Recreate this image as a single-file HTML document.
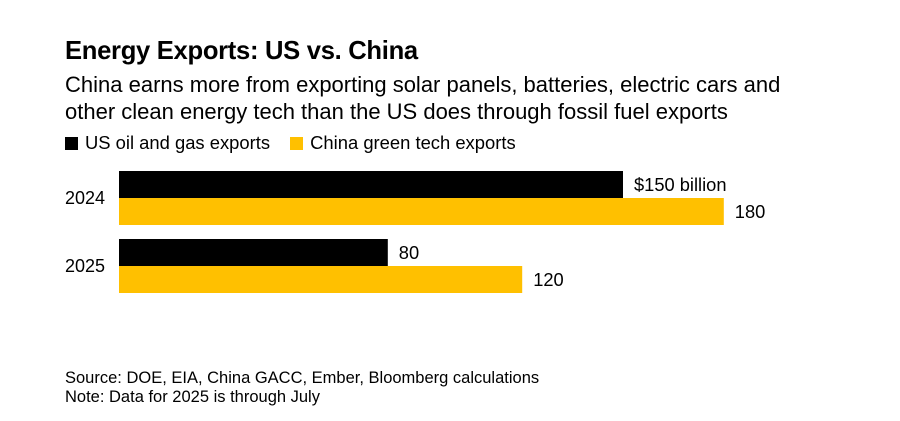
<!DOCTYPE html>
<html><head><meta charset="utf-8"><style>
body{margin:0;background:#fff;font-family:"Liberation Sans",sans-serif;color:#000}
#wrap{position:relative;width:900px;height:421px;overflow:hidden}
.t{position:absolute;white-space:nowrap}
</style></head><body><div id="wrap">
<div class="t" style="left:65px;top:37px;font-size:25.6px;font-weight:bold;letter-spacing:-0.3px">Energy Exports: US vs. China</div>
<div class="t" style="left:65px;top:71px;font-size:22px;line-height:27px">China earns more from exporting solar panels, batteries, electric cars and<br>other clean energy tech than the US does through fossil fuel exports</div>
<div class="t" style="left:65px;top:132px;font-size:18.4px">
<span><span style="display:inline-block;width:13px;height:13px;background:#000;margin-right:7px;vertical-align:-1px"></span>US oil and gas exports</span>
<span style="margin-left:15px"><span style="display:inline-block;width:13px;height:13px;background:#ffc000;margin-right:7px;vertical-align:-1px"></span>China green tech exports</span></div>
<svg id="svg" width="900" height="421" style="position:absolute;left:0;top:0"></svg>
<div class="t" style="left:65px;top:369px;font-size:16.5px;line-height:19px">Source: DOE, EIA, China GACC, Ember, Bloomberg calculations<br>Note: Data for 2025 is through July</div>
</div>
<script>
const categories=["2024","2025"];
const usValues=[150,80];
const chinaValues=[180,120];
const usLabels=["$150 billion","80"];
const chinaLabels=["180","120"];
const svg=document.getElementById('svg');
const NS='http://www.w3.org/2000/svg';
const x0=119,k=3.36;
const xs=v=>x0+v*k;
const groupY=i=>171+i*68;
const bh=27;
function mk(t,a){const e=document.createElementNS(NS,t);for(const n in a)e.setAttribute(n,a[n]);svg.appendChild(e);return e;}
categories.forEach((c,i)=>{
 const y=groupY(i);
 const lab=mk('text',{x:65,y:y+bh+6,'font-size':18,'font-family':'Liberation Sans, sans-serif'});lab.textContent=c;
 
 
 const b1=mk('rect',{x:x0,y:y,width:xs(usValues[i])-x0,height:bh,fill:'#000'});
 
 
 const b2=mk('rect',{x:x0,y:y+bh,width:xs(chinaValues[i])-x0,height:bh,fill:'#ffc000'});
 
 
 const t1=mk('text',{x:xs(usValues[i])+11,y:y+20,'font-size':18.3,'font-family':'Liberation Sans, sans-serif'});t1.textContent=usLabels[i];
 
 
 const t2=mk('text',{x:xs(chinaValues[i])+11,y:y+bh+20,'font-size':18.3,'font-family':'Liberation Sans, sans-serif'});t2.textContent=chinaLabels[i];
 
 
});
</script></body></html>
